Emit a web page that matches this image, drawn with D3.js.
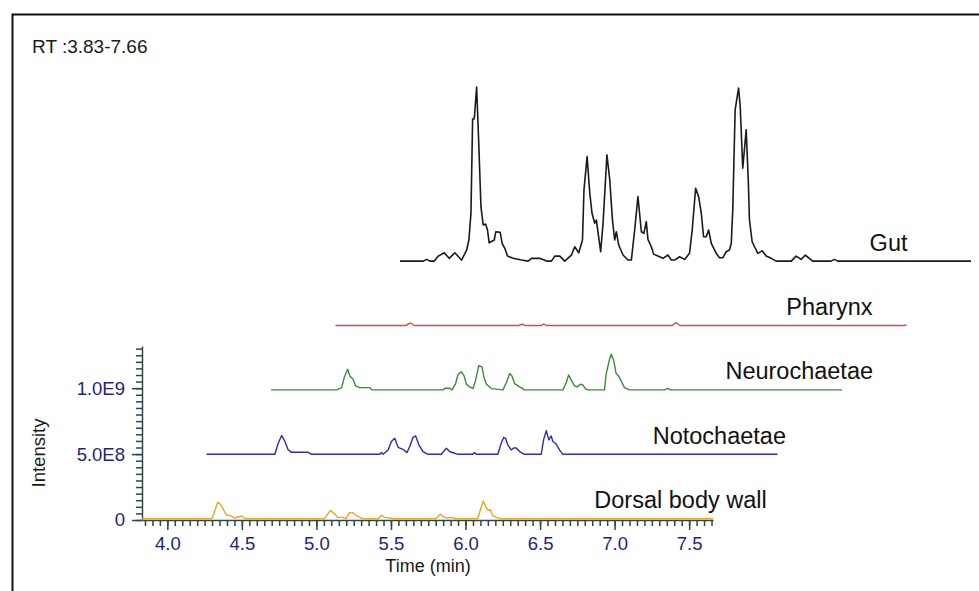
<!DOCTYPE html>
<html>
<head>
<meta charset="utf-8">
<script src="https://cdn.jsdelivr.net/npm/d3@7"></script>
<style>
  body { margin: 0; background: #fff; }
  svg { display: block; }
  text { font-family: "Liberation Sans", Arial, sans-serif; }
</style>
</head>
<body>
<div id="chart"></div>
<script>
// retention time (min), intensity (x 1E8)
const dorsal = [[3.83,0],[4.299,0],[4.339,1.27],[4.361,1.01],[4.395,0.30],[4.428,0.21],[4.451,0.05],[4.473,0.13],[4.500,0.21],[4.522,0],[5.054,0],[5.094,0.63],[5.121,0.38],[5.143,0.10],[5.176,0.10],[5.198,0],[5.221,0.46],[5.243,0.46],[5.277,0.17],[5.310,0],[5.415,0],[5.433,0.25],[5.444,0.21],[5.456,0.10],[5.489,0.05],[5.511,0],[5.801,0],[5.831,0.36],[5.857,0.10],[5.880,0.05],[5.902,0.10],[5.935,0],[6.081,0],[6.119,1.35],[6.136,0.89],[6.152,0.63],[6.166,0.71],[6.181,0.25],[6.210,0.08],[6.237,0],[7.66,0]];

const noto = [[3.83,0],[4.289,0],[4.311,0.84],[4.334,1.42],[4.356,0.97],[4.378,0.33],[4.401,0.15],[4.512,0.15],[4.535,0],[4.992,0],[5.003,0.13],[5.014,0],[5.048,0.33],[5.070,0.97],[5.093,1.22],[5.115,0.53],[5.148,0.38],[5.175,0.13],[5.193,0.59],[5.215,1.29],[5.233,1.39],[5.255,0.71],[5.282,0.21],[5.316,0],[5.405,0],[5.439,0.46],[5.461,0.21],[5.494,0.08],[5.517,0],[5.617,0],[5.628,0.13],[5.640,0],[5.784,0],[5.807,0.84],[5.823,1.27],[5.836,1.22],[5.851,0.71],[5.874,0.33],[5.890,0.48],[5.908,0.48],[5.930,0.21],[5.963,0],[6.075,0],[6.091,1.09],[6.109,1.80],[6.126,1.09],[6.142,1.39],[6.153,0.97],[6.171,0.84],[6.198,0.33],[6.220,0],[7.66,0]];

const neuro = [[3.83,0],[4.270,0],[4.304,0.17],[4.321,0.94],[4.344,1.57],[4.359,1.06],[4.381,0.81],[4.397,0.30],[4.426,0.17],[4.493,0.17],[4.508,0],[4.984,0],[5.000,0.13],[5.029,0.13],[5.044,0],[5.067,0.43],[5.085,1.19],[5.107,1.37],[5.125,1.06],[5.141,0.43],[5.163,0.23],[5.185,0.10],[5.201,0.68],[5.223,1.83],[5.245,1.75],[5.259,0.94],[5.275,0.43],[5.308,0.10],[5.386,0],[5.409,0.56],[5.431,1.24],[5.446,1.06],[5.464,0.48],[5.498,0.23],[5.531,0],[5.788,0],[5.811,0.56],[5.826,1.14],[5.844,0.74],[5.866,0.30],[5.884,0.23],[5.906,0.43],[5.922,0.38],[5.938,0.10],[5.955,0],[6.067,0],[6.078,1.19],[6.101,2.33],[6.112,2.71],[6.129,2.21],[6.145,1.24],[6.161,1.06],[6.179,0.68],[6.201,0.17],[6.235,0],[6.469,0],[6.491,0.11],[6.509,0],[7.66,0]];

const pharynx = [[3.83,0],[4.300,0],[4.334,0.19],[4.360,0],[5.060,0],[5.083,0.11],[5.100,0],[5.210,0],[5.227,0.11],[5.245,0],[6.090,0],[6.113,0.23],[6.140,0],[7.645,0],[7.66,0.06]];

const gut = [[3.83,0],[3.986,0],[4.009,0.13],[4.031,0],[4.060,0],[4.087,0.38],[4.127,0.63],[4.160,0.21],[4.198,0.63],[4.243,0.08],[4.277,0.84],[4.292,1.60],[4.306,3.63],[4.317,10.78],[4.328,10.78],[4.344,13.21],[4.359,8.69],[4.373,4.13],[4.388,2.74],[4.404,2.81],[4.417,2.36],[4.428,1.39],[4.462,1.60],[4.473,2.23],[4.502,2.18],[4.515,1.35],[4.533,0.97],[4.551,0.38],[4.589,0.21],[4.645,0.08],[4.689,0],[4.712,0.21],[4.768,0.21],[4.813,0],[4.846,0],[4.868,0.38],[4.902,0.38],[4.935,0],[4.980,0.46],[5.002,1.09],[5.029,0.63],[5.054,1.60],[5.064,5.40],[5.085,7.93],[5.103,5.15],[5.118,3.63],[5.136,2.87],[5.147,3.12],[5.176,0.71],[5.192,2.87],[5.218,8.06],[5.237,6.16],[5.255,3.12],[5.270,1.60],[5.281,2.23],[5.297,1.22],[5.326,0.46],[5.359,0.08],[5.382,0.08],[5.404,2.36],[5.426,4.89],[5.449,2.23],[5.466,2.11],[5.482,2.99],[5.493,1.65],[5.516,1.09],[5.531,0.53],[5.560,0.38],[5.594,0.21],[5.627,0.46],[5.650,0.08],[5.672,0.08],[5.705,0.33],[5.739,0.13],[5.772,0.59],[5.790,2.36],[5.813,5.53],[5.833,4.89],[5.851,3.63],[5.866,1.85],[5.884,1.85],[5.900,2.36],[5.918,1.35],[5.951,0.59],[5.973,0.25],[5.995,0.25],[6.018,0.71],[6.040,0.84],[6.052,1.35],[6.062,3.88],[6.078,11.48],[6.101,13.13],[6.112,11.73],[6.129,7.05],[6.152,9.96],[6.166,6.16],[6.174,3.12],[6.192,1.47],[6.208,1.09],[6.230,0.59],[6.259,0.78],[6.286,0.38],[6.320,0.21],[6.353,0],[6.454,0],[6.487,0.38],[6.521,0.13],[6.549,0.46],[6.598,0],[6.721,0],[6.744,0.13],[6.766,0],[7.66,0]];

const seriesNames = ['Dorsal body wall', 'Notochaetae', 'Neurochaetae', 'Pharynx', 'Gut'];
const seriesData = [dorsal, noto, neuro, pharynx, gut];

const xMajor = [4.0, 4.5, 5.0, 5.5, 6.0, 6.5, 7.0, 7.5];
const yMajor = [0, 5e8, 1e9];
const yLabels = ['0', '5.0E8', '1.0E9'];
const rtText = 'RT :3.83-7.66';

// drawing styles / layout
const colors = ['#f0a31e', '#2c2cb4', '#3b8c3b', '#d54b4b', '#1a1a1a'];
const labelAt = [6.864, 6.823, 6.878, 6.854, 6.98];   // label left edge, in trace time
const stepX = 64.5, stepY = 64.4;                     // offset between stacked traces

const width = 979, height = 591;

const svg = d3.select('#chart').append('svg')
    .attr('width', width)
    .attr('height', height);

svg.append('rect')
    .attr('x', 12.5).attr('y', 14.5)
    .attr('width', 1000).attr('height', 1000)
    .attr('fill', 'white')
    .attr('stroke', '#111')
    .attr('stroke-width', 2);

const x = d3.scaleLinear().domain([3.83, 7.66]).range([142, 713]);
const y = d3.scaleLinear().domain([0, 1.32e9]).range([520, 346]);

const axisColor = '#2d4848';
const tickColor = '#1f1f80';

const styleAxis = g => {
    g.selectAll('path, line').attr('stroke', axisColor).attr('stroke-width', 1.5);
    g.selectAll('text')
        .attr('fill', tickColor)
        .style('font-size', '18.5px')
        .style('font-family', '"Liberation Sans", Arial, sans-serif');
};

// minor ticks
svg.append('g')
    .attr('transform', `translate(0,${y(0)})`)
    .call(d3.axisBottom(x).ticks(80).tickSize(6).tickSizeOuter(0).tickFormat(''))
    .call(styleAxis);

svg.append('g')
    .attr('transform', `translate(${x.range()[0]},0)`)
    .call(d3.axisLeft(y).ticks(30).tickSize(6).tickSizeOuter(0).tickFormat(''))
    .call(styleAxis);

// major ticks
svg.append('g')
    .attr('transform', `translate(0,${y(0)})`)
    .call(d3.axisBottom(x).tickValues(xMajor).tickSize(10).tickSizeOuter(0)
        .tickPadding(7).tickFormat(d3.format('.1f')))
    .call(styleAxis)
    .call(g => g.select('.domain').remove());

svg.append('g')
    .attr('transform', `translate(${x.range()[0]},0)`)
    .call(d3.axisLeft(y).tickValues(yMajor).tickSize(10).tickSizeOuter(0)
        .tickPadding(7).tickFormat((d, i) => yLabels[i]))
    .call(styleAxis)
    .call(g => g.select('.domain').remove());

svg.append('text')
    .attr('x', 428).attr('y', 572)
    .attr('text-anchor', 'middle')
    .attr('fill', '#1a1a1a')
    .style('font-size', '18px')
    .text('Time (min)');

svg.append('text')
    .attr('transform', 'translate(45,453) rotate(-90)')
    .attr('text-anchor', 'middle')
    .attr('fill', '#1a1a1a')
    .style('font-size', '18.5px')
    .text('Intensity');

svg.append('text')
    .attr('x', 32).attr('y', 53)
    .attr('fill', '#1a1a1a')
    .style('font-size', '19px')
    .text(rtText);

const line = d3.line()
    .x(d => x(d[0]))
    .y(d => y(d[1] * 1e8));

const traces = svg.append('g');

seriesData.forEach((data, k) => {
    const g = traces.append('g')
        .attr('transform', `translate(${k * stepX},${-1.3 - k * stepY})`);

    g.append('path')
        .datum(data)
        .attr('d', line)
        .attr('fill', 'none')
        .attr('stroke', colors[k])
        .attr('stroke-width', k === 4 ? 1.6 : 1.4)
        .attr('stroke-linejoin', 'round');

    g.append('text')
        .attr('x', x(labelAt[k]))
        .attr('y', y(0) - 10.5)
        .attr('fill', '#111')
        .style('font-size', '23.5px')
        .text(seriesNames[k]);
});
</script>
</body>
</html>
